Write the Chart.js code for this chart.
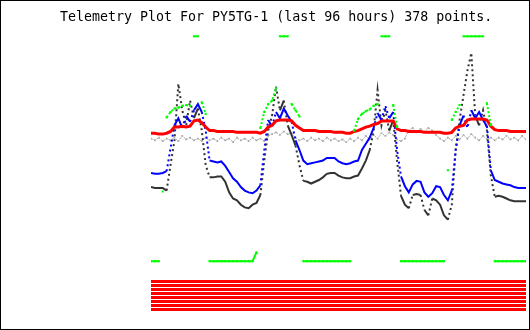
<!DOCTYPE html>
<html>
<head>
<meta charset="utf-8">
<title>Telemetry Plot For PY5TG-1</title>
<script src="https://cdn.jsdelivr.net/npm/chart.js@4.4.0/dist/chart.umd.min.js"></script>
<style>
  html, body { margin: 0; padding: 0; background: #fff; }
  canvas { display: block; }
</style>
</head>
<body>
<canvas id="telemetry" width="530" height="330"></canvas>
<script>
// last 96 hours (raw 0-255 telemetry counts)
const hours = [
  -96, -95, -94, -93, -92, -91, -90, -89, -88, -87, -86, -85, -84, -83, -82, -81,
  -80, -79, -78, -77, -76, -75, -74, -73, -72, -71, -70, -69, -68, -67, -66, -65,
  -64, -63, -62, -61, -60, -59, -58, -57, -56, -55, -54, -53, -52, -51, -50, -49,
  -48, -47, -46, -45, -44, -43, -42, -41, -40, -39, -38, -37, -36, -35, -34, -33,
  -32, -31, -30, -29, -28, -27, -26, -25, -24, -23, -22, -21, -20, -19, -18, -17,
  -16, -15, -14, -13, -12, -11, -10, -9, -8, -7, -6, -5, -4, -3, -2, -1, 0
];

const redValues = [
  145, 145, 144, 144, 145, 147, 152, 152, 153, 152, 153, 159, 160, 157, 152, 148,
  148, 147, 147, 147, 147, 147, 146, 146, 146, 146, 146, 146, 145, 147, 152, 154,
  159, 160, 160, 160, 159, 154, 151, 148, 148, 148, 148, 147, 147, 147, 147, 146,
  146, 146, 145, 145, 147, 148, 150, 152, 153, 155, 156, 159, 159, 159, 159, 150,
  148, 148, 147, 147, 147, 147, 146, 146, 146, 146, 146, 145, 145, 146, 151, 153,
  154, 160, 161, 161, 161, 161, 160, 153, 149, 148, 148, 148, 147, 147, 147, 147, 147
];

const grayValues = [
  139, 137, 140, 136, 139, 137, 140, 136, 142, 138, 140, 137, 139, 136, 140, 137,
  139, 136, 140, 137, 139, 135, 140, 137, 139, 136, 140, 137, 139, 136, 142, 144,
  146, 143, 147, 144, 145, 140, 137, 139, 136, 140, 137, 139, 136, 140, 137, 139,
  136, 138, 135, 139, 136, 140, 137, 142, 138, 143, 139, 145, 142, 146, 143, 138,
  136, 139, 148, 151, 146, 150, 147, 151, 148, 143, 139, 136, 140, 137, 142, 138,
  143, 139, 144, 140, 137, 142, 138, 140, 137, 140, 138, 142, 138, 140, 137, 142, 138
];

const blueValues = [
  100, 99, 99, 100, 102, 128, 154, 162, 151, 165, 158, 171, 178, 169, 148, 114,
  113, 112, 113, 108, 101, 94, 90, 84, 80, 78, 77, 80, 86, 126, 160, 153,
  169, 162, 173, 165, 158, 137, 126, 114, 110, 111, 112, 113, 114, 117, 117, 117,
  113, 111, 110, 111, 113, 114, 126, 133, 140, 151, 168, 160, 176, 162, 169, 126,
  96, 85, 78, 87, 91, 90, 78, 73, 77, 85, 84, 75, 69, 80, 126, 154,
  165, 151, 171, 162, 169, 160, 153, 103, 92, 90, 88, 87, 86, 84, 83, 83, 83
];

const blackValues = [
  84, 83, 83, 83, 80, 109, 137, 201, 171, 154, 182, 162, 173, 148, 109, 95,
  95, 96, 96, 90, 78, 71, 69, 64, 61, 60, 64, 66, 75, 114, 148, 165,
  198, 171, 182, 154, 143, 131, 109, 91, 90, 88, 90, 92, 95, 99, 100, 100,
  97, 95, 94, 94, 96, 97, 105, 114, 126, 148, 194, 154, 171, 148, 160, 114,
  74, 64, 60, 75, 76, 75, 58, 52, 71, 69, 64, 52, 47, 64, 126, 160,
  188, 216, 236, 165, 154, 171, 148, 97, 73, 74, 73, 71, 69, 68, 68, 68, 68
];

const greenValues = [
  0, 0, 0, 79, 163, 169, 173, 174, 176, 177, 176, 255, 255, 180, 167, 0,
  0, 0, 0, 0, 0, 0, 0, 0, 0, 0, 0, 10, 151, 169, 178, 182,
  196, 255, 255, 255, 178, 171, 164, 0, 0, 0, 0, 0, 0, 0, 0, 0,
  0, 0, 0, 0, 148, 161, 167, 170, 172, 176, 178, 255, 255, 255, 177, 152,
  0, 0, 0, 0, 0, 0, 0, 0, 0, 0, 0, 0, 103, 160, 169, 177,
  255, 255, 255, 255, 255, 255, 179, 154, 0, 0, 0, 0, 0, 0, 0, 0, 0
];

// the eight digital bits, one lane each
const bitNames = ['B1', 'B2', 'B3', 'B4', 'B5', 'B6', 'B7', 'B8'];
const bitStates = [1, 1, 1, 1, 1, 1, 1, 1];

const jump = ctx => Math.abs(ctx.p1.parsed.y - ctx.p0.parsed.y);

const analog = (values, color, width, order, extra) => Object.assign({
  data: values,
  borderColor: color,
  backgroundColor: color,
  borderWidth: width,
  pointRadius: 0,
  tension: 0,
  order: order
}, extra || {});

const datasets = [
  analog(grayValues, '#a8a8a8', 1, 5, {
    borderDash: [2, 1],
    pointRadius: 1.2,
    pointStyle: 'rect',
    pointBorderWidth: 0
  }),
  analog(blackValues, '#333333', 2, 4, {
    segment: {borderDash: ctx => jump(ctx) > 12 ? [2, 3] : undefined}
  }),
  analog(blueValues, '#0000ff', 2, 3, {
    segment: {borderDash: ctx => jump(ctx) > 12 ? [2, 3] : undefined}
  }),
  analog(redValues, '#ff0000', 3, 2),
  analog(greenValues, '#00ff00', 2, 1, {
    pointRadius: 1.5,
    pointStyle: 'rect',
    pointBorderWidth: 0,
    segment: {
      borderColor: ctx => jump(ctx) > 40 ? 'rgba(0,0,0,0)' : undefined,
      borderDash: ctx => (ctx.p0.parsed.y % 255 && ctx.p1.parsed.y % 255) ? [2, 2] : undefined
    }
  })
];

bitNames.forEach((name, lane) => {
  datasets.push({
    label: name,
    data: hours.map(() => bitStates[lane] ? lane : null),
    yAxisID: 'yBits',
    borderColor: '#ff0000',
    borderWidth: 3,
    pointRadius: 0,
    order: 6
  });
});

const frame = {
  id: 'frame',
  beforeDraw(chart) {
    const {ctx, width, height} = chart;
    ctx.save();
    ctx.fillStyle = '#ffffff';
    ctx.fillRect(0, 0, width, height);
    ctx.restore();
  },
  afterDraw(chart) {
    const {ctx, width, height} = chart;
    ctx.save();
    ctx.strokeStyle = '#000000';
    ctx.lineWidth = 1;
    ctx.strokeRect(0.5, 0.5, width - 1, height - 1);
    ctx.restore();
  }
};

new Chart(document.getElementById('telemetry').getContext('2d'), {
  type: 'line',
  data: {labels: hours, datasets: datasets},
  plugins: [frame],
  options: {
    responsive: false,
    animation: false,
    devicePixelRatio: 1,
    layout: {padding: {left: 60, right: 1, top: 0, bottom: 15}},
    plugins: {
      legend: {display: false},
      tooltip: {enabled: false},
      title: {
        display: true,
        text: 'Telemetry Plot For PY5TG-1 (last 96 hours) 378 points.',
        align: 'start',
        color: '#000000',
        font: {family: '"DejaVu Sans Mono", monospace', size: 13.3, weight: 'normal', lineHeight: 1},
        padding: {top: 11, bottom: 11}
      }
    },
    scales: {
      x: {type: 'linear', min: -96, max: 0, display: false},
      y: {
        min: -61, max: 256,
        ticks: {display: false},
        grid: {display: false},
        border: {display: false},
        afterFit: scale => { scale.width = 91; }
      },
      // bit lanes: 4px apart below the analog area
      yBits: {min: -61.625, max: 8.375, reverse: true, display: false}
    }
  }
});
</script>
</body>
</html>
